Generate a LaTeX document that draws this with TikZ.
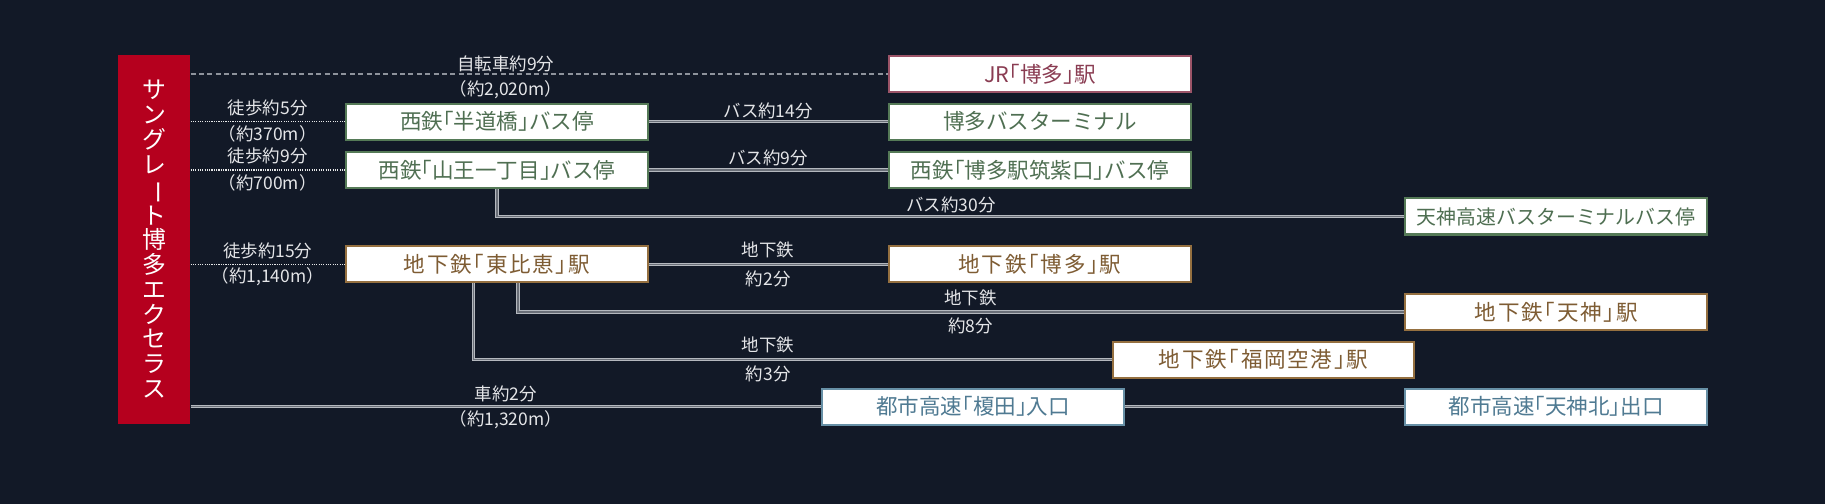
\documentclass[tikz,border=0pt]{standalone}
\usepackage{fontspec}
\usepackage{graphicx}
\newfontfamily\jp{Noto Sans CJK JP}
\newfontfamily\jpbox{Noto Sans CJK JP}[RawFeature=+halt]
\newfontfamily\jpboxls{Noto Sans CJK JP}[RawFeature=+halt,LetterSpace=8]
\definecolor{bg}{HTML}{121927}
\definecolor{redc}{HTML}{B5001E}
\definecolor{jrb}{HTML}{9C5468}
\definecolor{jrt}{HTML}{8A3C52}
\definecolor{greenb}{HTML}{557A57}
\definecolor{greent}{HTML}{4F6F52}
\definecolor{brownb}{HTML}{957040}
\definecolor{brownt}{HTML}{7E5C33}
\definecolor{blueb}{HTML}{6790A6}
\definecolor{bluet}{HTML}{4F7A92}
\definecolor{labelc}{HTML}{E4E5E8}
\definecolor{linec}{HTML}{B4B8BE}
\definecolor{lined}{HTML}{6A6F78}
\definecolor{dashc}{HTML}{8E939C}
\begin{document}
\begin{tikzpicture}[x=1pt,y=-1pt,
  box/.style={fill=white, line width=1.8pt, minimum width=259pt, minimum height=31pt, inner sep=0pt, font=\jpbox\fontsize{18.5}{20}\selectfont},
  jrbox/.style={box, draw=jrb, text=jrt},
  greenbox/.style={box, draw=greenb, text=greent},
  brownbox/.style={box, draw=brownb, text=brownt, font=\jpboxls\fontsize{18.5}{20}\selectfont},
  bluebox/.style={box, draw=blueb, text=bluet},
  longtext/.style={font=\jpbox\fontsize{17.1}{20}\selectfont},
  redbox/.style={fill=redc, minimum width=62pt, minimum height=317pt, inner sep=0pt, text=white, align=center, font=\jp\fontsize{20.5}{21.25}\selectfont},
  lbl/.style={text=labelc, inner sep=0pt, font=\jp\fontsize{15}{16}\selectfont},
  conn/.style={draw=linec, line width=0.9pt, double=lined, double distance=1pt},
  walk/.style={draw=white!90!bg, line width=1.1pt, dash pattern=on 1pt off 1pt},
  bike/.style={draw=dashc, line width=1.7pt, dash pattern=on 4.3pt off 2.9pt}
]
\fill[bg] (0,0) rectangle (1568,433);
\useasboundingbox (0,0) rectangle (1568,433);

% nodes
\node[redbox] (home) at (132.5,205.5) {サ\\ン\\グ\\レ\\\rotatebox[origin=c]{-90}{ー}\\ト\\博\\多\\エ\\ク\\セ\\ラ\\ス};
\node[jrbox] (jr) at (893.5,63.5) {JR「博多」駅};
\node[greenbox] (handou) at (427,104.5) {西鉄「半道橋」バス停};
\node[greenbox] (hakatabt) at (893.5,104.5) {博多バスターミナル};
\node[greenbox] (sannou) at (427,146) {西鉄「山王一丁目」バス停};
\node[greenbox] (chikushi) at (893.5,146) {西鉄「博多駅筑紫口」バス停};
\node[greenbox, longtext] (tenjinbt) at (1337,186) {天神高速バスターミナルバス停};
\node[brownbox] (higashihie) at (427,227) {地下鉄「東比恵」駅};
\node[brownbox] (hakata) at (893.5,227) {地下鉄「博多」駅};
\node[brownbox] (tenjin) at (1337,268) {地下鉄「天神」駅};
\node[brownbox] (airport) at (1085.5,309) {地下鉄「福岡空港」駅};
\node[bluebox] (enoki) at (836,349.5) {都市高速「榎田」入口};
\node[bluebox] (tenjinkita) at (1337,349.5) {都市高速「天神北」出口};

% connectors
\coordinate (v8) at (445,0);
\coordinate (v3) at (406.6,0);
\draw[bike] (home.east |- jr.west) -- (jr.west);
\draw[walk] (home.east |- handou.west) -- (handou.west);
\draw[walk] (home.east |- sannou.west) -- (sannou.west);
\draw[walk] (home.east |- higashihie.west) -- (higashihie.west);
\draw[conn] (handou.east) -- (hakatabt.west);
\draw[conn] (sannou.east) -- (chikushi.west);
\draw[conn] (higashihie.east) -- (hakata.west);
\draw[conn] (sannou.south) -- (sannou.south |- tenjinbt.west) -- (tenjinbt.west);
\draw[conn] (higashihie.south -| v8) -- (v8 |- tenjin.west) -- (tenjin.west);
\draw[conn] (higashihie.south -| v3) -- (v3 |- airport.west) -- (airport.west);
\draw[conn] (home.east |- enoki.west) -- (enoki.west);
\draw[conn] (enoki.east) -- (tenjinkita.west);

% labels
\node[lbl] (l1a) at (434.5,55) {自転車約9分};
\node[lbl] (l1b) at (434.5,77) {（約2,020m）};
\node[lbl] (l2a) at (230,93) {徒歩約5分};
\node[lbl] (l2b) at (230,115) {（約370m）};
\node[lbl] (l3a) at (230,134) {徒歩約9分};
\node[lbl] (l3b) at (230,157) {（約700m）};
\node[lbl] (l4) at (660,95) {バス約14分};
\node[lbl] (l5) at (660,136) {バス約9分};
\node[lbl] (l6) at (817,176) {バス約30分};
\node[lbl] (l7a) at (230,216) {徒歩約15分};
\node[lbl] (l7b) at (230,238) {（約1,140m）};
\node[lbl] (l8a) at (660,215) {地下鉄};
\node[lbl] (l8b) at (660,240) {約2分};
\node[lbl] (l9a) at (834,256) {地下鉄};
\node[lbl] (l9b) at (834,280) {約8分};
\node[lbl] (l10a) at (660,296) {地下鉄};
\node[lbl] (l10b) at (660,321) {約3分};
\node[lbl] (l11a) at (434.5,338) {車約2分};
\node[lbl] (l11b) at (434.5,361) {（約1,320m）};
\end{tikzpicture}
\end{document}
